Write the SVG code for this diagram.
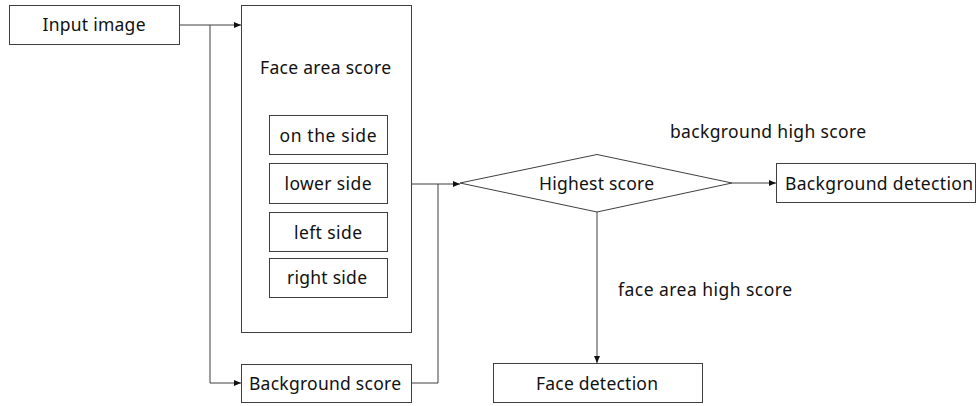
<svg xmlns="http://www.w3.org/2000/svg" width="979" height="406" viewBox="0 0 979 406">
  <style>
    .box { fill: #ffffff; stroke: #3f3f3f; stroke-width: 1; }
    .wire { fill: none; stroke: #3f3f3f; stroke-width: 1; }
    .lbl { font-family: "Noto Sans", "Open Sans", sans-serif; font-size: 17.5px; fill: #111111; text-anchor: middle; }
  </style>
  <defs>
    <marker id="arrow" markerUnits="userSpaceOnUse" markerWidth="7" markerHeight="6" refX="7" refY="3" orient="auto">
      <path d="M0,0 L7,3 L0,6 z" fill="#111111"/>
    </marker>
  </defs>
  <rect width="979" height="406" fill="#ffffff"/>

  <g id="connectors">
    <path class="wire" d="M179,25 H241" marker-end="url(#arrow)"/>
    <path class="wire" d="M210,25 V383 H241" marker-end="url(#arrow)"/>
    <path class="wire" d="M411,184 H460" marker-end="url(#arrow)"/>
    <path class="wire" d="M411,383 H438 V184"/>
    <path class="wire" d="M732,183 H776" marker-end="url(#arrow)"/>
    <path class="wire" d="M597,212 V363" marker-end="url(#arrow)"/>
  </g>

  <g id="input-image">
    <rect class="box" x="9.5" y="5.5" width="170" height="39"/>
    <text class="lbl" x="94" y="31" textLength="103" lengthAdjust="spacing">Input image</text>
  </g>

  <g id="face-area-score">
    <rect class="box" x="241.5" y="5.5" width="170" height="327"/>
    <text class="lbl" x="325.5" y="73.5" textLength="131" lengthAdjust="spacing">Face area score</text>
  </g>

  <g id="on-the-side">
    <rect class="box" x="269.5" y="115.5" width="118" height="39"/>
    <text class="lbl" x="328" y="142" textLength="97" lengthAdjust="spacing">on the side</text>
  </g>

  <g id="lower-side">
    <rect class="box" x="269.5" y="163.5" width="118" height="40"/>
    <text class="lbl" x="328" y="189.5" textLength="87" lengthAdjust="spacing">lower side</text>
  </g>

  <g id="left-side">
    <rect class="box" x="269.5" y="212.5" width="118" height="39"/>
    <text class="lbl" x="328" y="238.5" textLength="68" lengthAdjust="spacing">left side</text>
  </g>

  <g id="right-side">
    <rect class="box" x="269.5" y="258.5" width="118" height="39"/>
    <text class="lbl" x="327" y="284" textLength="80" lengthAdjust="spacing">right side</text>
  </g>

  <g id="background-score">
    <rect class="box" x="241.5" y="364.5" width="170" height="38"/>
    <text class="lbl" x="325" y="389.5" textLength="152" lengthAdjust="spacing">Background score</text>
  </g>

  <g id="highest-score">
    <polygon class="box" points="460,183 597,154.5 732,183 597,212"/>
    <text class="lbl" x="596.5" y="189.5" textLength="115" lengthAdjust="spacing">Highest score</text>
  </g>

  <g id="background-detection">
    <rect class="box" x="776.5" y="163.5" width="199" height="39"/>
    <text class="lbl" x="879" y="189.5" textLength="188" lengthAdjust="spacing">Background detection</text>
  </g>

  <g id="face-detection">
    <rect class="box" x="493.5" y="363.5" width="209" height="39"/>
    <text class="lbl" x="597" y="389.5" textLength="122" lengthAdjust="spacing">Face detection</text>
  </g>

  <g id="edge-labels">
    <text class="lbl" x="768" y="137.5" textLength="196" lengthAdjust="spacing">background high score</text>
    <text class="lbl" x="705" y="295.5" textLength="174" lengthAdjust="spacing">face area high score</text>
  </g>
</svg>
